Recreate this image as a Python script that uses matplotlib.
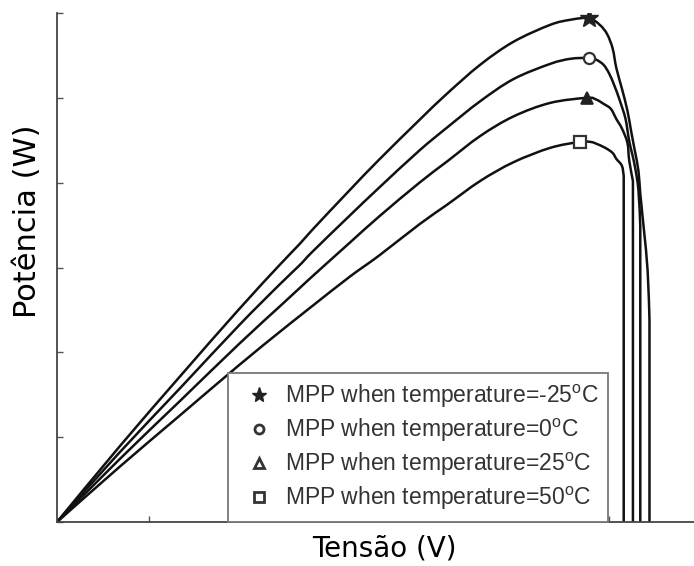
import matplotlib
matplotlib.use("Agg")
import matplotlib.pyplot as plt
from matplotlib.lines import Line2D
from matplotlib.path import Path
from matplotlib.patches import PathPatch
import numpy as np

# ---- data (arbitrary units, no tick labels) ----
v_m25 = [0, 3.4, 6.7, 9.9, 12.1, 13.2, 13.9, 15.9, 17.5, 19.7, 21.2, 23.0, 24.8, 26.8, 27.9, 28.9,
         29.5, 29.9, 30.2, 30.4, 30.7, 31.0, 31.2, 31.4, 31.6, 31.7, 31.9, 32.1, 32.2, 32.2]
p_m25 = [0, 8.9, 17.2, 25.1, 30.3, 32.8, 34.5, 39.1, 42.7, 47.4, 50.5, 53.9, 56.6, 58.6, 59.2, 59.4,
         58.6, 57.5, 55.8, 53.5, 51.1, 48.5, 46.1, 43.8, 41.4, 38.7, 34.4, 29.6, 23.8, 0]

v_0 = [0, 3.4, 6.7, 9.9, 12.1, 13.2, 13.9, 15.9, 17.5, 19.7, 21.2, 23.0, 24.8, 26.8, 27.9, 28.9,
       29.3, 29.7, 30.0, 30.3, 30.6, 30.9, 31.1, 31.4, 31.6, 31.7, 31.7]
p_0 = [0, 8.2, 15.8, 23.2, 28.0, 30.3, 31.9, 36.1, 39.4, 43.8, 46.5, 49.6, 52.2, 54.0, 54.6, 54.7,
       54.5, 53.9, 52.9, 51.4, 49.6, 47.5, 44.9, 42.0, 39.1, 34.9, 0]

v_25 = [0, 3.4, 6.7, 9.9, 12.1, 13.2, 13.9, 15.9, 17.5, 19.7, 21.2, 23.0, 24.8, 26.8, 28.8,
        29.3, 29.7, 30.1, 30.4, 30.7, 31.0, 31.1, 31.3, 31.3]
p_25 = [0, 7.4, 14.3, 21.0, 25.4, 27.6, 29.0, 32.9, 36.0, 40.0, 42.5, 45.5, 47.8, 49.4, 50.0,
        49.8, 49.3, 48.7, 47.5, 46.4, 44.7, 42.6, 40.2, 0]

v_50 = [0, 3.4, 6.7, 9.9, 12.1, 13.2, 13.9, 15.9, 17.5, 19.7, 21.2, 23.0, 24.8, 26.8, 28.4,
        29.0, 29.3, 29.8, 30.2, 30.4, 30.7, 30.8, 30.8]
p_50 = [0, 6.5, 12.6, 18.5, 22.4, 24.3, 25.5, 28.9, 31.4, 35.1, 37.4, 40.2, 42.4, 44.1, 44.8,
        44.8, 44.6, 44.1, 43.5, 42.8, 42.0, 40.8, 0]

mpp_v = [28.9, 28.9, 28.8, 28.4]
mpp_p = [59.4, 54.7, 50.0, 44.8]
mpp_markers = ['*', 'o', '^', 's']
temps = ['-25', '0', '25', '50']

plt.rcParams['font.family'] = ['DejaVu Sans']
plt.rcParams['mathtext.fontset'] = 'custom'
plt.rcParams['mathtext.rm'] = 'Liberation Sans'


def smooth_path(xs, ys):
    """Catmull-Rom rendering through the read points; last segment (vertical drop) straight."""
    pts = np.column_stack([xs, ys]).astype(float)
    curve = pts[:-1]
    n = len(curve)
    verts = [curve[0]]
    codes = [Path.MOVETO]
    for i in range(n - 1):
        p0 = curve[i - 1] if i > 0 else curve[i]
        p1 = curve[i]
        p2 = curve[i + 1]
        p3 = curve[i + 2] if i + 2 < n else curve[i + 1]
        c1 = p1 + (p2 - p0) / 6.0
        c2 = p2 - (p3 - p1) / 6.0
        verts += [c1, c2, p2]
        codes += [Path.CURVE4] * 3
    verts.append(pts[-1])
    codes.append(Path.LINETO)
    return Path(verts, codes)


fig = plt.figure(figsize=(6.94, 5.66), dpi=100)
ax = fig.add_axes([57/694, 44/566, 637/694, 509/566])

for v, p in [(v_m25, p_m25), (v_0, p_0), (v_25, p_25), (v_50, p_50)]:
    ax.add_patch(PathPatch(smooth_path(v, p), fill=False, edgecolor='#111111', lw=1.8,
                           joinstyle='round', zorder=2))

handles = []
for v, p, m, t in zip(mpp_v, mpp_p, mpp_markers, temps):
    if m == '*':
        ax.plot([v], [p], marker=m, ms=14, color='#222222', mec='#222222', zorder=3)
        h = Line2D([], [], ls='none', marker=m, ms=11, color='#222222', mec='#222222')
    elif m == '^':
        ax.plot([v], [p], marker=m, ms=8, mfc='#222222', mec='#222222', mew=1.2, zorder=3, ls='none')
        h = Line2D([], [], ls='none', marker=m, ms=7, mfc='white', mec='#333333', mew=2.0)
    else:
        ax.plot([v], [p], marker=m, ms=8, mfc='white', mec='#333333', mew=1.6, zorder=3, ls='none')
        h = Line2D([], [], ls='none', marker=m, ms=6.5, mfc='white', mec='#333333', mew=2.0)
    handles.append(h)

labels = [r'MPP when temperature=' + t + r'$^\mathrm{o}$C' for t in temps]

ax.set_xlim(0, 637/92*5)
ax.set_ylim(0, 509/85*10)
ax.set_xticks([5, 10, 15, 20, 25, 30])
ax.set_yticks([0, 10, 20, 30, 40, 50, 60])
ax.tick_params(direction='in', length=4, width=1, colors='#555555',
               labelleft=False, labelbottom=False)
for s in ['top', 'right']:
    ax.spines[s].set_visible(False)
for s in ['left', 'bottom']:
    ax.spines[s].set_color('#444444')
    ax.spines[s].set_linewidth(1.3)

leg = ax.legend(handles, labels, loc='lower left',
                bbox_to_anchor=((228 - 57) / 637, 0.0), borderaxespad=0.0,
                prop={'family': 'Liberation Sans', 'size': 16.5},
                labelspacing=0.3, handlelength=1.9, handletextpad=0.15,
                borderpad=0.42, fancybox=False, framealpha=1)
leg.get_frame().set_edgecolor('#777777')
leg.get_frame().set_linewidth(1.3)
for t in leg.get_texts():
    t.set_color('#333333')

fig.text(384/694, 1 - 548/566, 'Tensão (V)', ha='center', va='center', fontsize=20, color='black')
fig.text(28/694, 1 - 221/566, 'Potência (W)', ha='center', va='center', rotation=90,
         fontsize=22, color='black')

fig.savefig('out.png', dpi=100)
